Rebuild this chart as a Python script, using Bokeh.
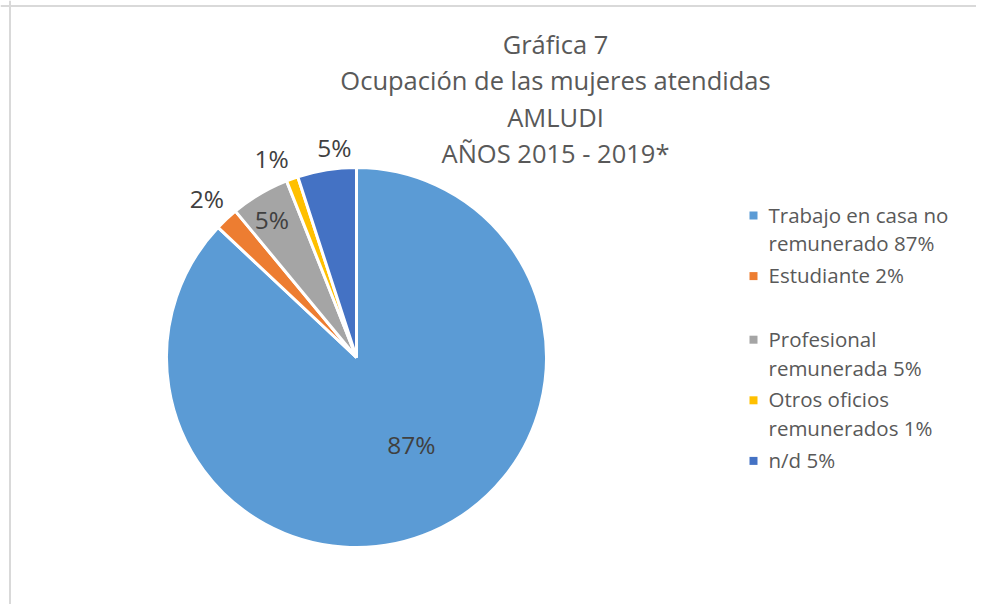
import math
from bokeh.plotting import figure
from bokeh.models import Range1d, Span, ColumnDataSource
from bokeh.core.properties import value
from bokeh.embed import file_html
from bokeh.resources import INLINE

# ---- data ----
categories = ["Trabajo en casa no remunerado", "Estudiante", "Profesional remunerada",
              "Otros oficios remunerados", "n/d"]
values = [87, 2, 5, 1, 5]
colors = ["#5B9BD5", "#ED7D31", "#A5A5A5", "#FFC000", "#4472C4"]
legend_lines = [["Trabajo en casa no", "remunerado 87%"], ["Estudiante 2%"], [""],
                ["Profesional", "remunerada 5%"], ["Otros oficios", "remunerados 1%"], ["n/d 5%"]]
title_lines = ["Gráfica 7", "Ocupación de las mujeres atendidas", "AMLUDI", "AÑOS 2015 - 2019*"]

# ---- layout ----
W, H = 976, 604
FONT = "Open Sans"
def sy(y):  # screen y -> data y
    return H - y

cx, cy, R = 356, sy(357), 190
label_rf = [0.54, 1.15, 0.85, 1.14, 1.11]
label_shift = [9.0, 0.0, 1.0, 3.3, -3.0]

p = figure(width=W, height=H, x_range=Range1d(0, W), y_range=Range1d(0, H),
           output_backend="svg", toolbar_location=None, min_border=0)
p.axis.visible = False
p.grid.visible = False
p.outline_line_color = None
p.background_fill_color = "white"
p.border_fill_color = "white"

total = float(sum(values))
starts, ends, lx, ly, ltxt = [], [], [], [], []
acc = 0.0
for i, v in enumerate(values):
    a0 = math.pi / 2 - 2 * math.pi * acc / total
    acc += v
    a1 = math.pi / 2 - 2 * math.pi * acc / total
    starts.append(a0)
    ends.append(a1)
    mid = (a0 + a1) / 2 + math.radians(label_shift[i])
    lx.append(cx + R * label_rf[i] * math.cos(mid))
    ly.append(cy + R * label_rf[i] * math.sin(mid))
    ltxt.append(f"{v}%")

src = ColumnDataSource(dict(s=starts, e=ends, c=colors))
p.wedge(x=cx, y=cy, radius=R, start_angle="s", end_angle="e", direction="clock",
        fill_color="c", line_color="white", line_width=3, source=src)

p.text(x=lx, y=ly, text=ltxt, text_font=value(FONT), text_font_size="24.5px",
       text_color="#404040", text_align="center", text_baseline="middle")

# title
ty0, tdy = 43, 36.5
p.text(x=[555] * len(title_lines), y=[sy(ty0 + i * tdy) for i in range(len(title_lines))],
       text=title_lines, text_font=value(FONT), text_font_size="25.5px",
       text_color="#595959", text_align="center", text_baseline="middle")

# legend
lx0, ly0, ldy = 768, 214, 28.8
mx, my, tx, ty, ttxt = [], [], [], [], []
y = ly0
for item in legend_lines:
    if item != [""]:
        mx.append(lx0 - 15)
        my.append(sy(y + 1))
    for ln in item:
        tx.append(lx0)
        ty.append(sy(y))
        ttxt.append(ln)
        y += ldy
    y += 3
p.rect(x=mx, y=my, width=8, height=8, fill_color=colors[:len(mx)], line_color=None)
p.text(x=tx, y=ty, text=ttxt, text_font=value(FONT), text_font_size="20.5px",
       text_color="#595959", text_align="left", text_baseline="middle")

# chart border (top & left visible)
p.add_layout(Span(location=sy(5.5), dimension="width", line_color="#d9d9d9", line_width=2))
p.add_layout(Span(location=9.5, dimension="height", line_color="#d9d9d9", line_width=2))

open("out.html", "w").write(file_html(p, INLINE))
